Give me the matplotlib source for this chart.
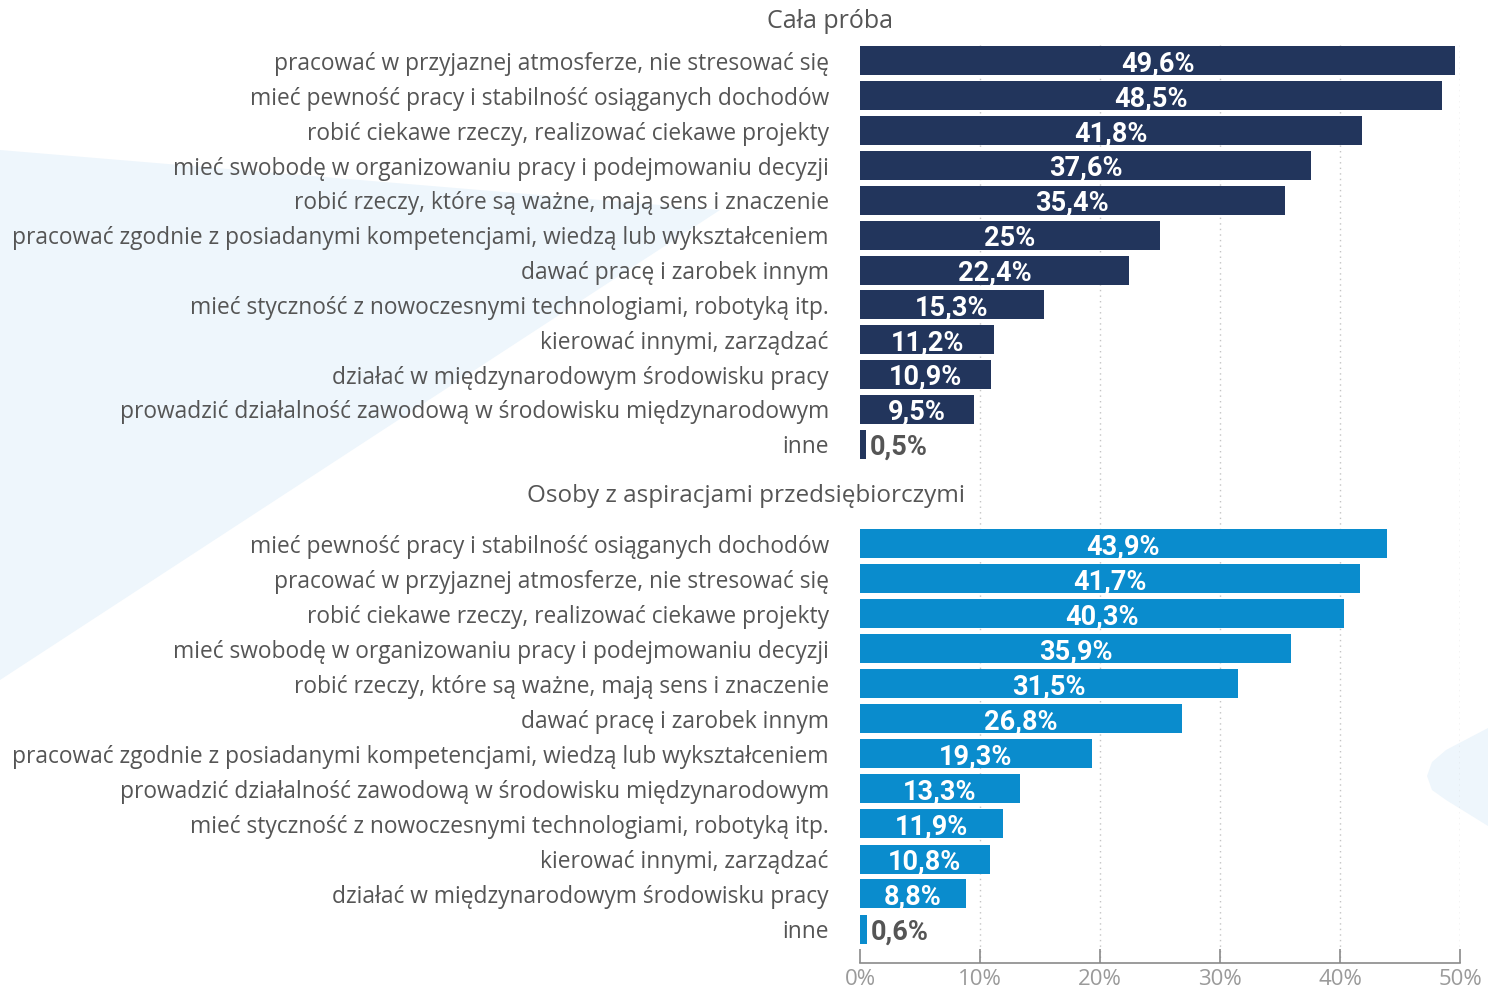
import matplotlib
matplotlib.use('Agg')
import matplotlib.pyplot as plt
from matplotlib.patches import Polygon
from matplotlib.ticker import FuncFormatter

W, H = 1488, 988

all_title = "Cała próba"
all_labels = [
    "pracować w przyjaznej atmosferze, nie stresować się",
    "mieć pewność pracy i stabilność osiąganych dochodów",
    "robić ciekawe rzeczy, realizować ciekawe projekty",
    "mieć swobodę w organizowaniu pracy i podejmowaniu decyzji",
    "robić rzeczy, które są ważne, mają sens i znaczenie",
    "pracować zgodnie z posiadanymi kompetencjami, wiedzą lub wykształceniem",
    "dawać pracę i zarobek innym",
    "mieć styczność z nowoczesnymi technologiami, robotyką itp.",
    "kierować innymi, zarządzać",
    "działać w międzynarodowym środowisku pracy",
    "prowadzić działalność zawodową w środowisku międzynarodowym",
    "inne",
]
all_values = [49.6, 48.5, 41.8, 37.6, 35.4, 25.0, 22.4, 15.3, 11.2, 10.9, 9.5, 0.5]
all_text = ["49,6%", "48,5%", "41,8%", "37,6%", "35,4%", "25%", "22,4%",
            "15,3%", "11,2%", "10,9%", "9,5%", "0,5%"]

ent_title = "Osoby z aspiracjami przedsiębiorczymi"
ent_labels = [
    "mieć pewność pracy i stabilność osiąganych dochodów",
    "pracować w przyjaznej atmosferze, nie stresować się",
    "robić ciekawe rzeczy, realizować ciekawe projekty",
    "mieć swobodę w organizowaniu pracy i podejmowaniu decyzji",
    "robić rzeczy, które są ważne, mają sens i znaczenie",
    "dawać pracę i zarobek innym",
    "pracować zgodnie z posiadanymi kompetencjami, wiedzą lub wykształceniem",
    "prowadzić działalność zawodową w środowisku międzynarodowym",
    "mieć styczność z nowoczesnymi technologiami, robotyką itp.",
    "kierować innymi, zarządzać",
    "działać w międzynarodowym środowisku pracy",
    "inne",
]
ent_values = [43.9, 41.7, 40.3, 35.9, 31.5, 26.8, 19.3, 13.3, 11.9, 10.8, 8.8, 0.6]
ent_text = ["43,9%", "41,7%", "40,3%", "35,9%", "31,5%", "26,8%", "19,3%",
            "13,3%", "11,9%", "10,8%", "8,8%", "0,6%"]

x_ticks = [0, 10, 20, 30, 40, 50]

NAVY = "#22355c"
BLUE = "#0a8ccd"
LABEL_GREY = "#555555"
TICK_GREY = "#9a9a9a"
SHAPE = "#eef6fc"
LABEL_FONT = "Open Sans"
VALUE_FONT = "Roboto"


def fx(x):
    return x / W


def fy(y):
    return 1 - y / H


fig = plt.figure(figsize=(W / 100, H / 100), dpi=100)

# pale decorative shapes behind the chart
bg = fig.add_axes([0, 0, 1, 1], zorder=0)
bg.set_xlim(0, W)
bg.set_ylim(H, 0)
bg.axis("off")
bg.add_patch(Polygon([(0, 150), (720, 210), (0, 680)], closed=True,
                     facecolor=SHAPE, edgecolor="none"))
bg.add_patch(Polygon([(1488, 728), (1446, 750), (1432, 762), (1427, 776),
                      (1432, 790), (1446, 800), (1488, 826)], closed=True,
                     facecolor=SHAPE, edgecolor="none"))

# one axes for both groups, rows stacked top to bottom
step_top = 34.85
top_first = 61
bot_first = 544
bot_step = 35.0
axis_y = 963
grid_top = 43

ax = fig.add_axes([fx(860), fy(axis_y), fx(1460) - fx(860), fy(grid_top) - fy(axis_y)],
                  zorder=1)
ax.patch.set_alpha(0)


def row_pos(first, step, n):
    return [(first + i * step - top_first) / step_top for i in range(n)]


top_y = row_pos(top_first, step_top, len(all_values))
bot_y = row_pos(bot_first, bot_step, len(ent_values))
bar_h = 29 / step_top

ax.set_xlim(0, 50)
ax.set_ylim((axis_y - top_first) / step_top, (grid_top - top_first) / step_top)

for x in x_ticks[1:]:
    ax.axvline(x, color="#c4c4c4", lw=1, ls=(0, (1, 3)), zorder=0)

for ys, vals, txts, color in [(top_y, all_values, all_text, NAVY),
                              (bot_y, ent_values, ent_text, BLUE)]:
    ax.barh(ys, vals, height=bar_h, color=color, zorder=2)
    for y, v, t in zip(ys, vals, txts):
        if v < 3:
            ax.text(v + 0.3, y, t, ha="left", va="center_baseline", fontsize=19.5,
                    fontweight="bold", family=VALUE_FONT, color=LABEL_GREY, zorder=3)
        else:
            ax.text(v / 2, y, t, ha="center", va="center_baseline", fontsize=19.5,
                    fontweight="bold", family=VALUE_FONT, color="white", zorder=3)

for ys, labels in [(top_y, all_labels), (bot_y, ent_labels)]:
    for y, lab in zip(ys, labels):
        ax.text(-2.6, y, lab, ha="right", va="center_baseline", fontsize=16.4,
                family=LABEL_FONT, color=LABEL_GREY, clip_on=False)

fig.text(fx(830), fy(22), all_title, ha="center", va="center", fontsize=18,
         family=LABEL_FONT, color=LABEL_GREY)
fig.text(fx(746), fy(496), ent_title, ha="center", va="center", fontsize=17.5,
         family=LABEL_FONT, color=LABEL_GREY)

ax.set_yticks([])
ax.set_xticks(x_ticks)
ax.xaxis.set_major_formatter(FuncFormatter(lambda v, p: f"{v:.0f}%"))
# ticks point up from the baseline
ax.tick_params(axis="x", direction="in", length=10, width=1.2, color="#8a8a8a",
               labelsize=16, labelcolor=TICK_GREY, pad=4)
for lab in ax.get_xticklabels():
    lab.set_family(LABEL_FONT)
for side in ["top", "right", "left"]:
    ax.spines[side].set_visible(False)
ax.spines["bottom"].set_color("#8a8a8a")
ax.spines["bottom"].set_linewidth(1.2)

fig.savefig("out.png", dpi=100)
